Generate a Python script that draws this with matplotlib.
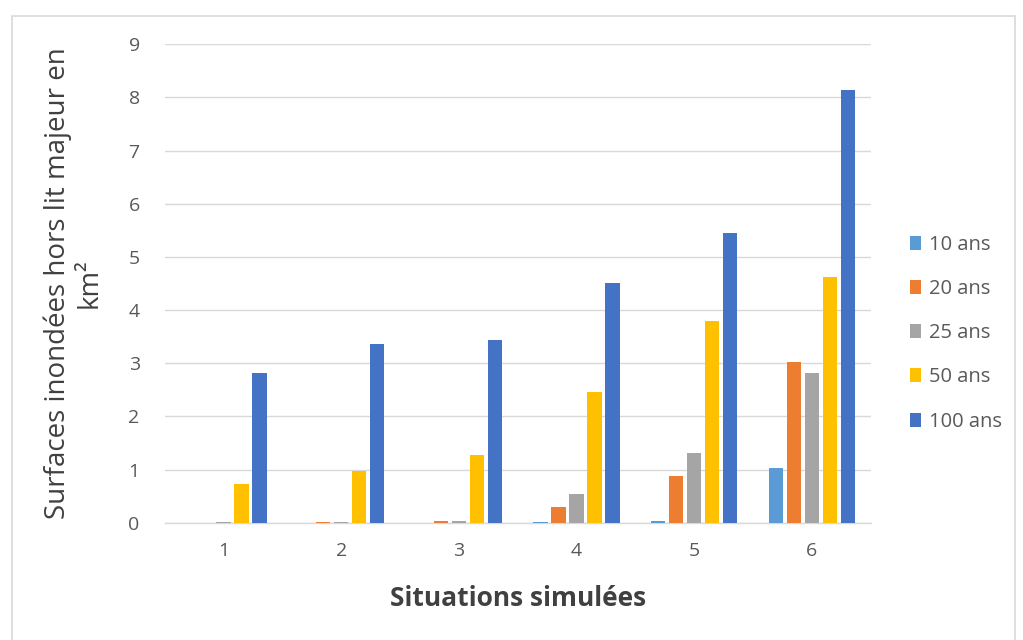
import numpy as np
import matplotlib.pyplot as plt
from matplotlib.patches import Rectangle

situations = ['1', '2', '3', '4', '5', '6']
series_names = ['10 ans', '20 ans', '25 ans', '50 ans', '100 ans']
ans_10 = [0.0, 0.0, 0.0, 0.01, 0.03, 1.03]
ans_20 = [0.0, 0.02, 0.03, 0.29, 0.88, 3.03]
ans_25 = [0.02, 0.02, 0.03, 0.54, 1.31, 2.82]
ans_50 = [0.73, 0.98, 1.28, 2.46, 3.79, 4.62]
ans_100 = [2.82, 3.37, 3.44, 4.51, 5.45, 8.13]
colors = ['#5b9bd5', '#ed7d31', '#a5a5a5', '#ffc000', '#4472c4']

plt.rcParams['font.family'] = ['Open Sans', 'DejaVu Sans']

fig = plt.figure(figsize=(10.23, 6.4), dpi=100)
fig.patches.append(Rectangle((0.012, -0.01), 0.980, 0.985, transform=fig.transFigure,
                             fill=False, edgecolor='#d9d9d9', linewidth=1.2))
ax = fig.add_axes([0.161, 0.183, 0.690, 0.748])

x = np.arange(len(situations))
width = 0.12
step = 0.153
all_series = [ans_10, ans_20, ans_25, ans_50, ans_100]
for i, (vals, name) in enumerate(zip(all_series, series_names)):
    ax.bar(x + (i - 2) * step, vals, width, color=colors[i], label=name, zorder=3)

ax.set_xlim(-0.5, len(situations) - 0.5)
ax.set_ylim(0, 9)
ax.set_yticks(range(0, 10))
ax.set_xticks(x)
ax.set_xticklabels(situations)
ax.grid(axis='y', color='#d9d9d9', linewidth=1, zorder=0)
for s in ['top', 'right', 'left']:
    ax.spines[s].set_visible(False)
ax.spines['bottom'].set_color('#d9d9d9')
ax.spines['bottom'].set_linewidth(1)
ax.tick_params(axis='y', length=0, labelsize=14, colors='#595959', pad=18)
ax.tick_params(axis='x', length=0, labelsize=14, colors='#595959', pad=14)

ax.set_ylabel('Surfaces inondées hors lit majeur en\nkm²', fontsize=20, color='#404040',
              labelpad=18, linespacing=1.15)
ax.set_xlabel('Situations simulées', fontsize=19, fontweight='bold', color='#404040', labelpad=18)

leg = ax.legend(loc='center left', bbox_to_anchor=(1.03, 0.396), frameon=False,
                fontsize=14.5, labelspacing=1.2, handlelength=0.55, handleheight=0.7,
                handletextpad=0.4)
for t in leg.get_texts():
    t.set_color('#595959')

fig.savefig('out.png', dpi=100)
